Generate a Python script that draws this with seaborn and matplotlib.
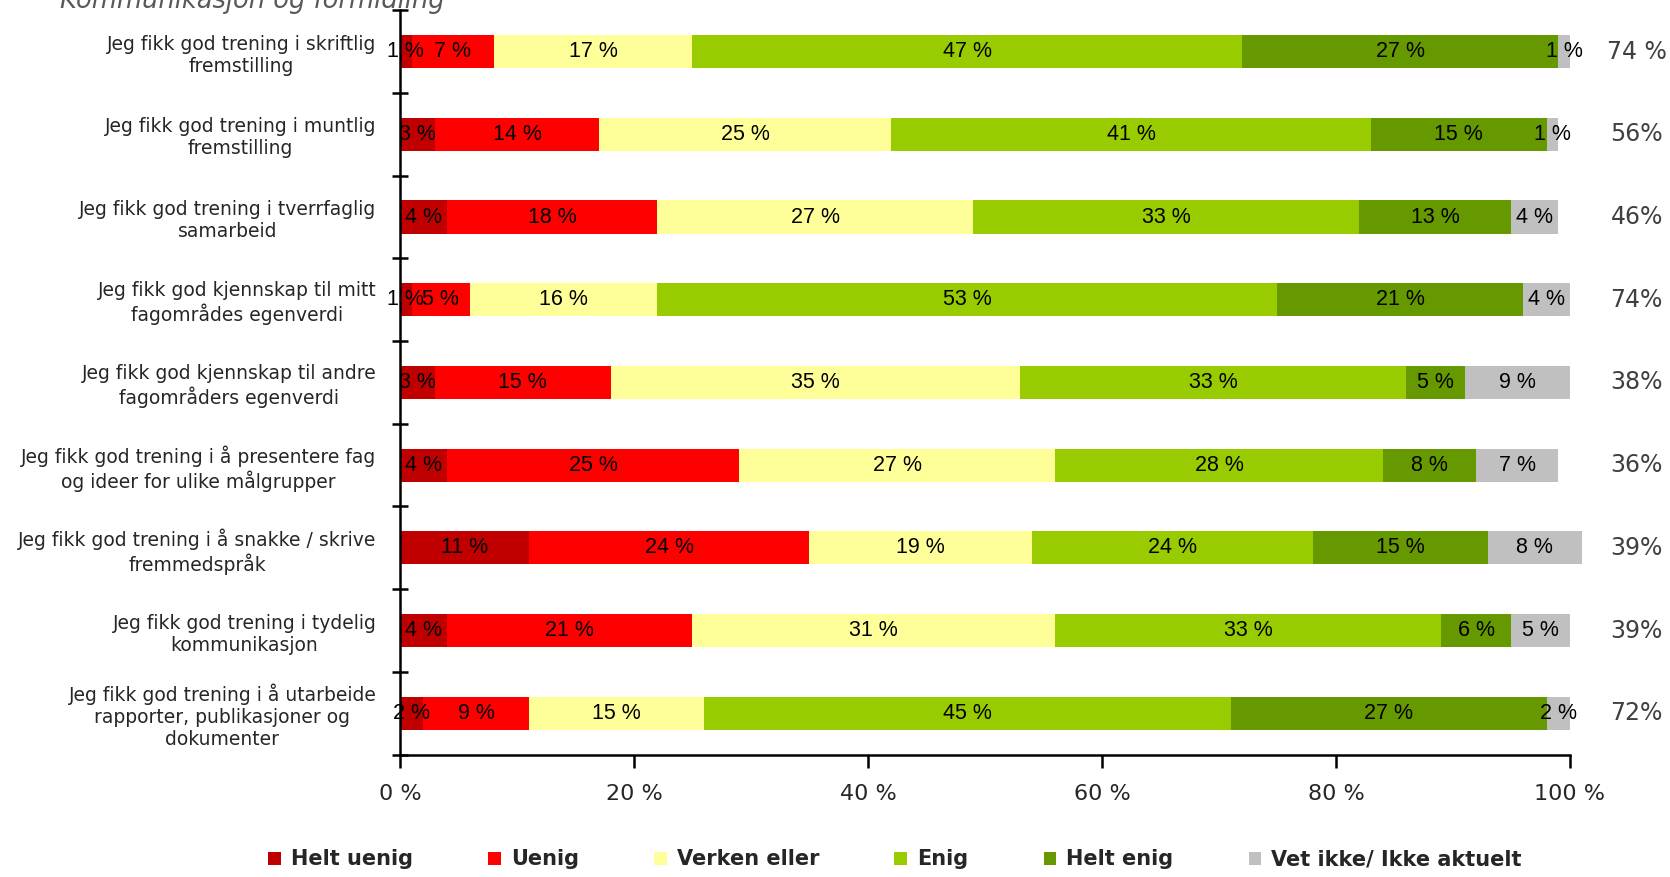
import matplotlib
matplotlib.use("Agg")
import matplotlib.pyplot as plt
import seaborn as sns
import numpy as np

# data
questions = [
    "Jeg fikk god trening i skriftlig\nfremstilling",
    "Jeg fikk god trening i muntlig\nfremstilling",
    "Jeg fikk god trening i tverrfaglig\nsamarbeid",
    "Jeg fikk god kjennskap til mitt\nfagområdes egenverdi",
    "Jeg fikk god kjennskap til andre\nfagområders egenverdi",
    "Jeg fikk god trening i å presentere fag\nog ideer for ulike målgrupper",
    "Jeg fikk god trening i å snakke / skrive\nfremmedspråk",
    "Jeg fikk god trening i tydelig\nkommunikasjon",
    "Jeg fikk god trening i å utarbeide\nrapporter, publikasjoner og\ndokumenter",
]
categories = ["Helt uenig", "Uenig", "Verken eller", "Enig", "Helt enig", "Vet ikke/ Ikke aktuelt"]
helt_uenig = [1, 3, 4, 1, 3, 4, 11, 4, 2]
uenig = [7, 14, 18, 5, 15, 25, 24, 21, 9]
verken = [17, 25, 27, 16, 35, 27, 19, 31, 15]
enig = [47, 41, 33, 53, 33, 28, 24, 33, 45]
helt_enig = [27, 15, 13, 21, 5, 8, 15, 6, 27]
vet_ikke = [1, 1, 4, 4, 9, 7, 8, 5, 2]
andel_enig = ["74 %", "56%", "46%", "74%", "38%", "36%", "39%", "39%", "72%"]
xticks = [0, 20, 40, 60, 80, 100]

colors = ["#C00000", "#FF0000", "#FFFF99", "#99CC00", "#669900", "#C0C0C0"]

vals = np.array([helt_uenig, uenig, verken, enig, helt_enig, vet_ikke]).T
cum = vals.cumsum(axis=1)

sns.set_style("ticks")
plt.rcParams["font.family"] = ["DejaVu Sans"]

fig = plt.figure(figsize=(16.7, 8.77), dpi=100)
ax = fig.add_axes([0.2395, 0.1396, 0.7006, 0.8487])

# stacked bars: draw cumulative layers from the longest down
for k in range(len(categories) - 1, -1, -1):
    sns.barplot(x=cum[:, k], y=questions, orient="h", color=colors[k],
                saturation=1, width=0.4, label=categories[k], ax=ax,
                linewidth=0)

for p in ax.patches:
    p.set_clip_on(False)

# segment labels
for i in range(len(questions)):
    for k in range(len(categories)):
        mid = cum[i, k] - vals[i, k] / 2
        ax.text(mid, i, f"{vals[i, k]} %", ha="center", va="center",
                fontsize=15.5, family=["Liberation Sans Narrow", "Liberation Sans"],
                color="black")

# share agree column on the right
for i, s in enumerate(andel_enig):
    ax.text(1.057, i, s, transform=ax.get_yaxis_transform(), ha="center",
            va="center", fontsize=17, color="#404040")

ax.set_xlim(0, 100)
ax.set_ylim(len(questions) - 0.5, -0.5)
ax.set_xticks(xticks)
ax.set_xticklabels([f"{t} %" for t in xticks], fontsize=16)
ax.set_yticks(np.arange(-0.5, len(questions), 1), minor=True)
ax.set_xlabel("")
ax.set_ylabel("")

sns.despine(ax=ax)
for side in ["left", "bottom"]:
    ax.spines[side].set_linewidth(1.8)
    ax.spines[side].set_color("black")

ax.tick_params(axis="y", which="major", left=True, length=0, pad=17, labelsize=13.5)
ax.tick_params(axis="y", which="minor", left=True, direction="inout",
               length=12, width=1.8, color="black")
ax.tick_params(axis="x", which="major", bottom=True, top=False,
               direction="out", length=9, width=1.8, pad=12, color="black")
for t in ax.xaxis.get_major_ticks():
    t.tick1line.set_visible(True)
    t.tick1line.set_zorder(5)
for lbl in ax.get_yticklabels():
    lbl.set_ha("right")
    lbl.set_multialignment("center")
    lbl.set_linespacing(1.2)

# title (cut off at the top in the original)
fig.text(0.036, 0.9909, "Kommunikasjon og formidling", fontsize=18.5,
         style="italic", color="#595959", va="baseline")

handles, labels = ax.get_legend_handles_labels()
if ax.get_legend() is not None:
    ax.get_legend().remove()
order = [labels.index(c) for c in categories]
fig.legend([handles[j] for j in order], categories, loc="center",
           bbox_to_anchor=(0.536, 0.02), ncol=6, frameon=False,
           prop={"size": 15, "weight": "bold"},
           handlelength=0.6, handleheight=0.6, handletextpad=0.5,
           columnspacing=3.6)

fig.savefig("out.png", dpi=100)
